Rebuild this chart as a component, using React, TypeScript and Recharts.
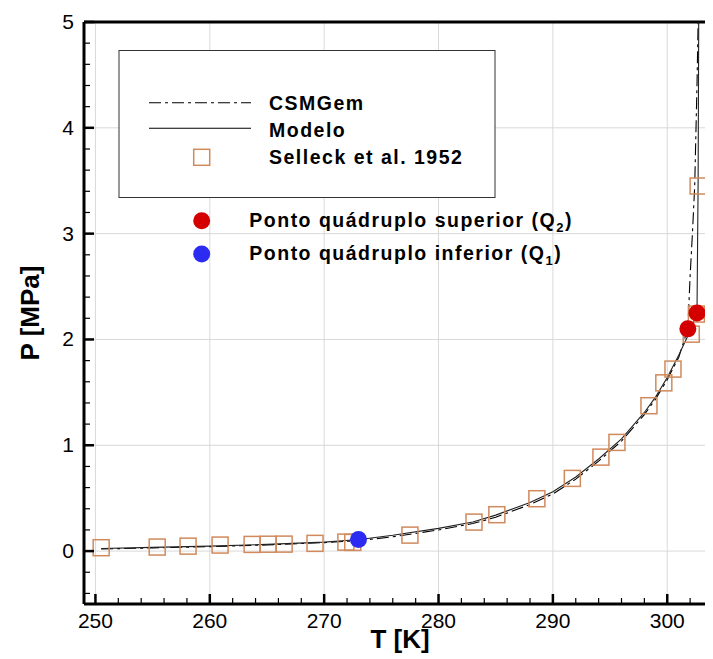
import React from 'react';
import { ComposedChart, Line, Scatter, XAxis, YAxis, ReferenceLine } from 'recharts';

// Selleck et al. 1952 (open squares)
const selleckT = [250.5, 255.4, 258.1, 260.9, 263.7, 265.1, 266.5, 269.2, 271.9, 272.5, 277.5, 283.1, 285.1, 288.6, 291.7, 294.2, 295.6, 298.4, 299.7, 300.5, 302.1, 302.55, 302.7];
const selleckP = [0.032, 0.038, 0.047, 0.057, 0.063, 0.065, 0.066, 0.073, 0.085, 0.082, 0.151, 0.274, 0.344, 0.495, 0.687, 0.888, 1.027, 1.374, 1.59, 1.72, 2.05, 2.24, 3.45];

// Modelo (solid)
const modeloT = [250.5, 255, 260, 265, 270, 273.1, 276, 280, 283, 285, 288, 290, 292, 294, 296, 298, 299, 300, 301, 302, 302.6, 302.7, 302.75];
const modeloP = [0.025, 0.035, 0.047, 0.063, 0.085, 0.11, 0.15, 0.215, 0.275, 0.34, 0.46, 0.56, 0.7, 0.87, 1.06, 1.31, 1.46, 1.64, 1.85, 2.08, 2.25, 3.5, 5.0];

// CSMGem (dash-dot)
const csmT = [250.5, 255, 260, 265, 270, 273.1, 276, 280, 283, 285, 288, 290, 292, 294, 296, 298, 299, 300, 301, 301.8, 302.0, 302.2, 302.4, 302.6, 302.7];
const csmP = [0.02, 0.03, 0.042, 0.058, 0.08, 0.1, 0.135, 0.2, 0.26, 0.32, 0.44, 0.54, 0.68, 0.85, 1.04, 1.29, 1.44, 1.62, 1.83, 2.1, 2.6, 3.0, 3.45, 4.4, 5.0];

// quadruple points
const upperQT = [302.6, 301.8];
const upperQP = [2.25, 2.1];
const lowerQT = [273.0];
const lowerQP = [0.11];

const xMajor = [250, 260, 270, 280, 290, 300];
const yMajor = [0, 1, 2, 3, 4];
const xTicks = Array.from({ length: 27 }, (_, i) => 250 + i * 2);
const yTicks = Array.from({ length: 28 }, (_, i) => +(-0.4 + i * 0.2).toFixed(1));

const zip = (t: number[], p: number[]) => t.map((T, i) => ({ T, P: p[i] }));
const selleck = zip(selleckT, selleckP);
const modelo = zip(modeloT, modeloP);
const csm = zip(csmT, csmP);
const upperQ = zip(upperQT, upperQP);
const lowerQ = zip(lowerQT, lowerQP);

const FONT = '"Liberation Sans", Arial, sans-serif';
const SQUARE = '#d08a5c';
const DASHDOT = '12 4 3 4';

const isWhole = (v: number) => Math.abs(v - Math.round(v)) < 1e-6;

const YTick = (props: any) => {
  const { x, y, payload } = props;
  const v = payload.value;
  const major = isWhole(v);
  const ax = x + 10;
  return (
    <g>
      <line x1={ax} x2={ax + (major ? 10 : 6)} y1={y} y2={y} stroke="#000" strokeWidth={major ? 2.5 : 1.2} />
      {major && (
        <text x={x} y={y} dy={7} textAnchor="end" fontFamily={FONT} fontSize={21} fill="#000">
          {v}
        </text>
      )}
    </g>
  );
};

const XTick = (props: any) => {
  const { x, y, payload } = props;
  const v = payload.value;
  const major = v % 10 === 0;
  const ay = y - 8;
  return (
    <g>
      <line x1={x} x2={x} y1={ay} y2={ay - (major ? 10 : 6)} stroke="#000" strokeWidth={major ? 2.5 : 1.2} />
      {major && (
        <text x={x} y={y} dy={16} textAnchor="middle" fontFamily={FONT} fontSize={21} fill="#000">
          {v}
        </text>
      )}
    </g>
  );
};

const squareShape = (p: any) => (
  <rect x={p.cx - 8} y={p.cy - 8} width={16} height={16} fill="none" stroke={SQUARE} strokeWidth={1.5} />
);
const redDot = (p: any) => <circle cx={p.cx} cy={p.cy} r={8.5} fill="#d40000" />;
const blueDot = (p: any) => <circle cx={p.cx} cy={p.cy} r={8.5} fill="#2b2bf2" />;

const legendText = { fontFamily: FONT, fontSize: 19.5, fontWeight: 700, letterSpacing: 1.5, fill: '#000' } as const;

export default function App() {
  return (
    <div style={{ position: 'relative', width: 705, height: 651, overflow: 'hidden', background: '#fff' }}>
      <style>{'html,body{overflow:hidden}'}</style>
      <ComposedChart width={720} height={651} margin={{ top: 14, right: 15, bottom: 15, left: 16 }}>
        <XAxis
          dataKey="T"
          type="number"
          domain={[249, 304]}
          allowDataOverflow
          ticks={xTicks}
          interval={0}
          tick={<XTick />}
          tickSize={0}
          tickMargin={8}
          height={40}
          axisLine={{ stroke: '#000', strokeWidth: 3 }}
          tickLine={false}
        />
        <YAxis
          dataKey="P"
          type="number"
          domain={[-0.5, 5]}
          allowDataOverflow
          ticks={yTicks}
          interval={0}
          tick={<YTick />}
          tickSize={0}
          tickMargin={10}
          width={60}
          axisLine={{ stroke: '#000', strokeWidth: 3 }}
          tickLine={false}
        />
        {xMajor.map(v => (
          <ReferenceLine key={`gx${v}`} x={v} stroke="#d9d9d9" strokeWidth={1} />
        ))}
        {yMajor.map(v => (
          <ReferenceLine key={`gy${v}`} y={v} stroke="#d9d9d9" strokeWidth={1} />
        ))}
        <ReferenceLine y={5} stroke="#000" strokeWidth={3} />
        <ReferenceLine x={304} stroke="#000" strokeWidth={3} />
        <Scatter data={selleck} shape={squareShape} isAnimationActive={false} />
        <Line data={csm} dataKey="P" stroke="#000" strokeWidth={1.1} strokeDasharray={DASHDOT} dot={false} activeDot={false} isAnimationActive={false} />
        <Line data={modelo} dataKey="P" stroke="#222" strokeWidth={1.1} dot={false} activeDot={false} isAnimationActive={false} />
        <Scatter data={upperQ} shape={redDot} isAnimationActive={false} />
        <Scatter data={lowerQ} shape={blueDot} isAnimationActive={false} />
      </ComposedChart>

      <svg width={705} height={651} style={{ position: 'absolute', left: 0, top: 0, pointerEvents: 'none' }}>
        <rect x={111} y={42.5} width={376} height={147} fill="#fff" stroke="#333" strokeWidth={1} />
        <line x1={141} x2={243} y1={94.7} y2={94.7} stroke="#000" strokeWidth={1.1} strokeDasharray={DASHDOT} />
        <line x1={141} x2={243} y1={120.3} y2={120.3} stroke="#000" strokeWidth={1.1} />
        <rect x={185.7} y={141.3} width={16} height={16} fill="none" stroke={SQUARE} strokeWidth={1.5} />
        <text x={261} y={102} {...legendText}>CSMGem</text>
        <text x={261} y={128.7} {...legendText}>Modelo</text>
        <text x={261} y={156} {...legendText}>Selleck et al. 1952</text>

        <circle cx={193.7} cy={212.7} r={8.5} fill="#d40000" />
        <text x={241.3} y={218.7} {...legendText}>
          Ponto quádruplo superior (Q<tspan fontSize={13} dy={5}>2</tspan><tspan dy={-5}>)</tspan>
        </text>
        <circle cx={193.7} cy={246} r={8.5} fill="#2b2bf2" />
        <text x={241.3} y={252} {...legendText}>
          Ponto quádruplo inferior (Q<tspan fontSize={13} dy={5}>1</tspan><tspan dy={-5}>)</tspan>
        </text>

        <text x={392} y={640} textAnchor="middle" fontFamily={FONT} fontSize={26} fontWeight={700}>
          T [K]
        </text>
        <text
          transform="translate(31,305) rotate(-90)"
          textAnchor="middle"
          fontFamily={FONT}
          fontSize={26}
          fontWeight={700}
        >
          P [MPa]
        </text>
      </svg>
    </div>
  );
}
